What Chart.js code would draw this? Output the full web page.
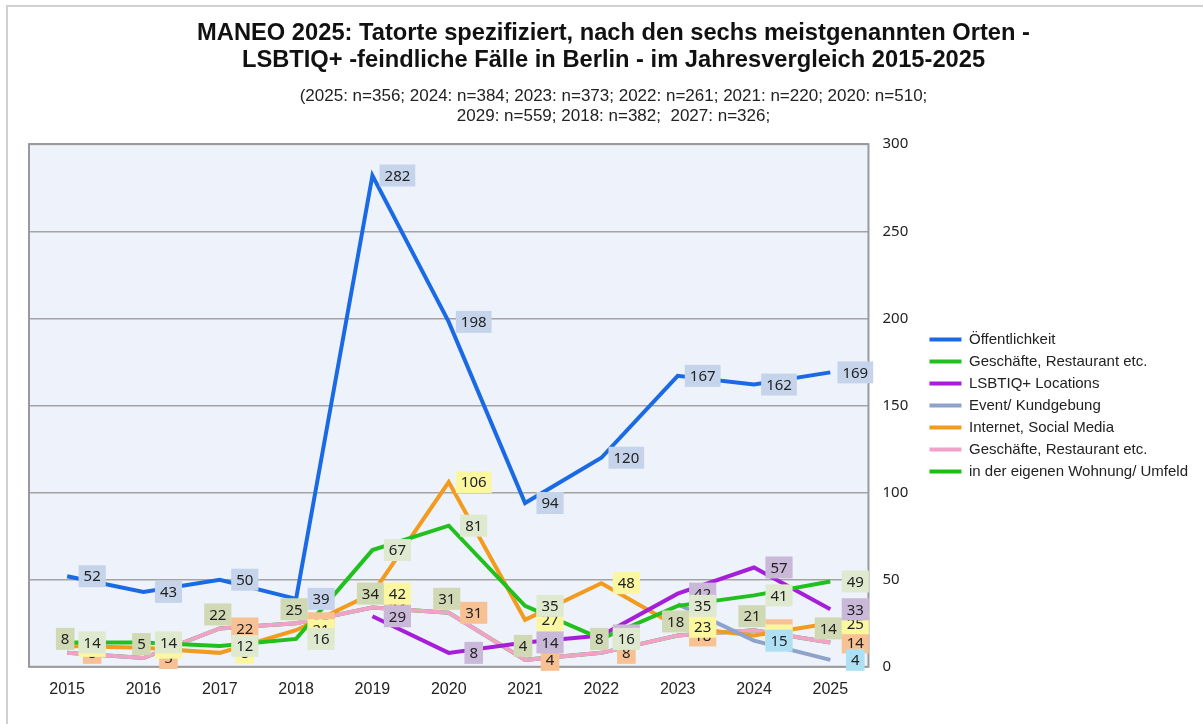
<!DOCTYPE html>
<html>
<head>
<meta charset="utf-8">
<script src="https://cdn.jsdelivr.net/npm/chart.js@4/dist/chart.umd.min.js"></script>
<style>
  body { margin: 0; background: #fff; }
  #wrap { position: relative; width: 1203px; height: 724px; }
  #frame { position: absolute; left: 6px; top: 5px; right: 0; bottom: 0; border-left: 2px solid #d0d0d0; border-top: 2px solid #d0d0d0; }
</style>
</head>
<body>
<div id="wrap">
  <div id="frame"></div>
  <canvas id="chart"></canvas>
</div>
<script>
const years = ['2015', '2016', '2017', '2018', '2019', '2020', '2021', '2022', '2023', '2024', '2025'];
const oeffentlichkeit = [52, 43, 50, 39, 282, 198, 94, 120, 167, 162, 169];
const geschaefte = [14, 14, 12, 16, 67, 81, 35, 16, 35, 41, 49];
const lsbtiqLocations = [null, null, null, null, 29, 8, 14, 18, 42, 57, 33];
const eventKundgebung = [null, null, null, null, null, null, null, null, 36, 15, 4];
const internetSocial = [12, 11, 8, 21, 42, 106, 27, 48, 23, 18, 25];
const geschaefteRosa = [8, 5, 22, 25, 34, 31, 4, 8, 18, 21, 14];
const wohnungUmfeld = [8, 5, 22, 25, 34, 31, 4, 8, 18, 21, 14];
const yTicks = [0, 50, 100, 150, 200, 250, 300];

const titleLines = [
    'MANEO 2025: Tatorte spezifiziert, nach den sechs meistgenannten Orten -',
    'LSBTIQ+ -feindliche Fälle in Berlin - im Jahresvergleich 2015-2025'
];
const subtitleLines = [
    '(2025: n=356; 2024: n=384; 2023: n=373; 2022: n=261; 2021: n=220; 2020: n=510;',
    '2029: n=559; 2018: n=382;  2027: n=326;'
];

function line(label, data, color, labelBg, extra) {
    return Object.assign({
        label: label, data: data,
        borderColor: color, backgroundColor: color,
        borderWidth: 4, pointRadius: 0, tension: 0, spanGaps: false,
        labelBg: labelBg, labelDx: 25, labelDy: 0
    }, extra || {});
}

// draws the value boxes next to each point
const valueBoxes = {
    id: 'valueBoxes',
    afterDatasetsDraw(chart) {
        const ctx = chart.ctx;
        ctx.save();
        ctx.font = '15px "Noto Sans", sans-serif';
        ctx.textAlign = 'center';
        ctx.textBaseline = 'middle';
        const order = [6, 5, 4, 3, 2, 1, 0];
        order.forEach(di => {
            const ds = chart.data.datasets[di];
            const meta = chart.getDatasetMeta(di);
            meta.data.forEach((pt, i) => {
                const v = ds.data[i];
                if (v === null || v === undefined) return;
                const x = pt.x + ds.labelDx, y = pt.y + ds.labelDy;
                const t = String(v);
                const w = ctx.measureText(t).width + 10;
                ctx.fillStyle = ds.labelBg;
                ctx.fillRect(x - w / 2, y - 11, w, 22);
                ctx.fillStyle = '#222';
                ctx.fillText(t, x, y + 1);
            });
        });
        ctx.restore();
    }
};

const plotFrame = {
    id: 'plotFrame',
    beforeDatasetsDraw(chart) {
        const a = chart.chartArea, ctx = chart.ctx;
        ctx.save();
        ctx.strokeStyle = '#9a9a9a';
        ctx.lineWidth = 2;
        ctx.strokeRect(a.left, a.top, a.right - a.left, a.bottom - a.top);
        ctx.restore();
    },
    beforeDraw(chart) {
        const a = chart.chartArea, ctx = chart.ctx;
        ctx.save();
        ctx.fillStyle = '#eef3fb';
        ctx.fillRect(a.left, a.top, a.right - a.left, a.bottom - a.top);
        ctx.restore();
    }
};

const legendItems = chart => Chart.defaults.plugins.legend.labels.generateLabels(chart)
    .map(item => Object.assign(item, { lineWidth: 0 }));

new Chart(document.getElementById('chart'), {
    type: 'line',
    data: {
        labels: years,
        datasets: [
            line('Öffentlichkeit', oeffentlichkeit, '#1a6ae6', '#c5d4ea'),
            line('Geschäfte, Restaurant etc.', geschaefte, '#22c01e', '#dfe9d0'),
            line('LSBTIQ+ Locations', lsbtiqLocations, '#a51fd8', '#c9b8d8'),
            line('Event/ Kundgebung', eventKundgebung, '#8fa2c9', '#aee0f4'),
            line('Internet, Social Media', internetSocial, '#f29b1e', '#fbf7a0'),
            line('Geschäfte, Restaurant etc.', geschaefteRosa, '#f2a2c8', '#f8c194'),
            line('in der eigenen Wohnung/ Umfeld', wohnungUmfeld, '#1fbd1a', '#d0d8b4', { labelDx: -2, labelDy: -14 })
        ]
    },
    options: {
        responsive: true, maintainAspectRatio: false, animation: false,
        layout: { padding: { left: 29, right: 5, top: 0, bottom: 20 } },
        plugins: {
            title: {
                display: true, text: titleLines, color: '#111',
                font: { family: '"Liberation Sans", Arial, sans-serif', size: 23.7, weight: 'bold', lineHeight: 1.14 },
                padding: { top: 20, bottom: 12 }
            },
            subtitle: {
                display: true, text: subtitleLines, color: '#222',
                font: { family: '"Liberation Sans", Arial, sans-serif', size: 17, lineHeight: 1.18 },
                padding: { top: 0, bottom: 18 }
            },
            legend: {
                position: 'right', fullSize: false,
                labels: { boxWidth: 32, boxHeight: 4, padding: 7, color: '#222', generateLabels: legendItems,
                    font: { family: '"Liberation Sans", Arial, sans-serif', size: 15 } }
            },
            tooltip: { enabled: false }
        },
        scales: {
            x: {
                offset: true,
                grid: { display: false },
                border: { display: false },
                ticks: { color: '#222', padding: 5, font: { family: '"Liberation Sans", Arial, sans-serif', size: 16 } }
            },
            y: {
                position: 'right', min: 0, max: 300,
                afterBuildTicks: s => { s.ticks = yTicks.map(v => ({ value: v })); },
                afterFit: s => { s.width = 54; },
                grid: { color: '#a3a3a3', lineWidth: 1.5, drawTicks: false },
                border: { display: false },
                ticks: { color: '#222', padding: 14, font: { family: '"Noto Sans", sans-serif', size: 15 } }
            }
        }
    },
    plugins: [plotFrame, valueBoxes]
});
</script>
</body>
</html>
